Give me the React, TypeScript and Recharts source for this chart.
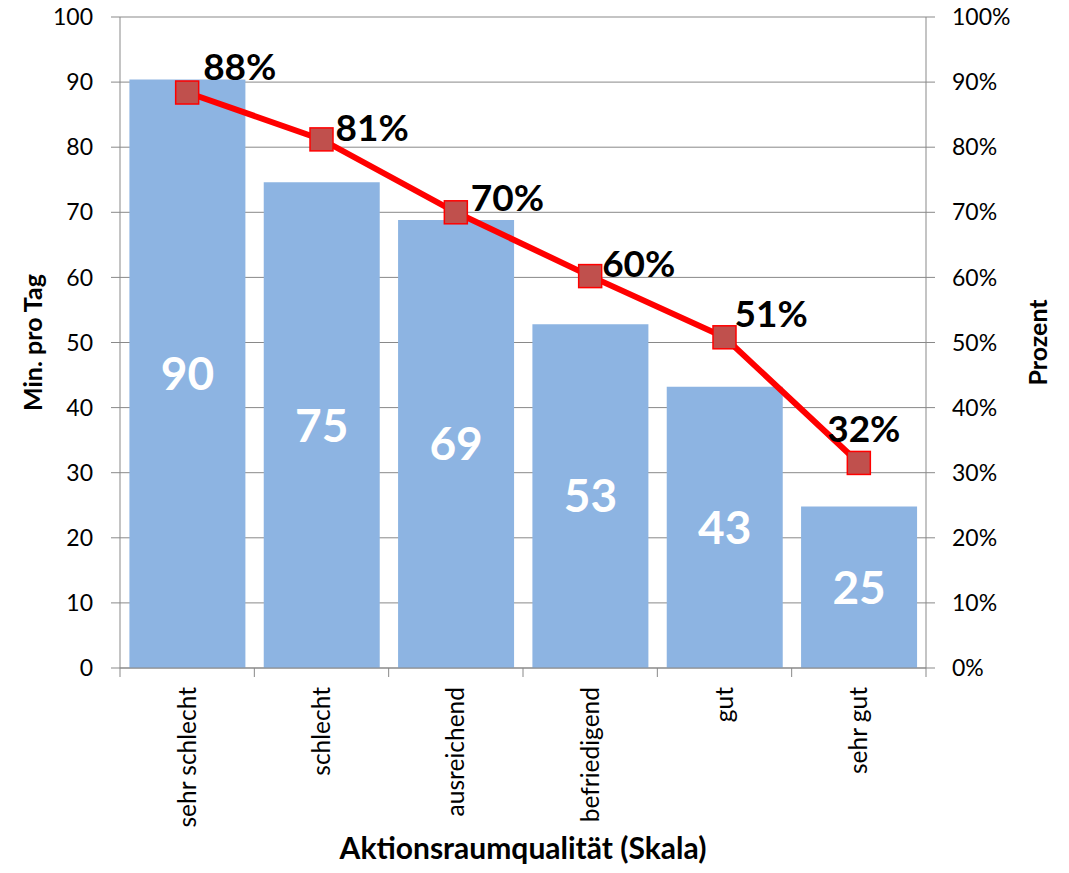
import {
  Bar,
  CartesianGrid,
  ComposedChart,
  LabelList,
  Line,
  XAxis,
  YAxis,
} from "recharts";

const categories = [
  "sehr schlecht",
  "schlecht",
  "ausreichend",
  "befriedigend",
  "gut",
  "sehr gut",
];
// Minuten pro Tag (Säulen, linke Achse)
const minutesPerDay = [90.4, 74.6, 68.8, 52.8, 43.2, 24.8];
// Anteil in Prozent (Linie, rechte Achse)
const percentShare = [88.4, 81.2, 70.0, 60.2, 50.8, 31.5];
const minuteTicks = [0, 10, 20, 30, 40, 50, 60, 70, 80, 90, 100];
const percentTicks = [0, 10, 20, 30, 40, 50, 60, 70, 80, 90, 100];

const data = categories.map((name, i) => ({
  name,
  minuten: minutesPerDay[i],
  prozent: percentShare[i],
}));

const CHART_W = 1069;
const CHART_H = 873;
const LEFT_W = 120;
const RIGHT_W = 143;
const TOP = 17;
const X_H = 205;
const BAND = (CHART_W - LEFT_W - RIGHT_W) / categories.length;

const AXIS = "#898989";
const FONT = "Lato, 'Open Sans', sans-serif";

// category labels run upwards; tick marks sit on the category borders
function CategoryTick(props: any) {
  const { x, y, payload, index } = props;
  const left = x - BAND / 2;
  const ty = y + 19;
  return (
    <g>
      <line x1={left} y1={y} x2={left} y2={y + 9} stroke={AXIS} />
      {index === categories.length - 1 && (
        <line x1={x + BAND / 2} y1={y} x2={x + BAND / 2} y2={y + 9} stroke={AXIS} />
      )}
      <text
        x={x}
        y={ty}
        transform={`rotate(-90 ${x} ${ty})`}
        textAnchor="end"
        dy="0.35em"
        fontSize={24.5}
        fill="#000"
      >
        {payload.value}
      </text>
    </g>
  );
}

function SquareDot(props: any) {
  const { cx, cy } = props;
  if (cx == null || cy == null) return null;
  return (
    <rect
      x={cx - 11.5}
      y={cy - 11.5}
      width={23}
      height={23}
      fill="#C0504D"
      stroke="#FF0000"
      strokeWidth={1.5}
    />
  );
}

// hand-placed offsets of the percentage labels: [dx, dy, anchor]
const pctLabelNudge: [number, number, string][] = [
  [16, -13, "start"],
  [14, 2, "start"],
  [15, -1, "start"],
  [12, 1, "start"],
  [10, -10, "start"],
  [5, -21, "middle"],
];

function PercentLabel(props: any) {
  const { x, y, value, index } = props;
  const [dx, dy, anchor] = pctLabelNudge[index] ?? [14, 0, "start"];
  return (
    <text
      x={x + dx}
      y={y + dy}
      textAnchor={anchor as any}
      fontSize={37}
      fontWeight="bold"
      fill="#000"
    >
      {`${Math.round(value)}%`}
    </text>
  );
}

function SideTitle({ viewBox, text, side }: any) {
  if (!viewBox) return null;
  const x = side === "left" ? viewBox.x + 32 : viewBox.x + viewBox.width - 32;
  const y = viewBox.y + viewBox.height / 2;
  return (
    <text
      x={x}
      y={y}
      transform={`rotate(-90 ${x} ${y})`}
      textAnchor="middle"
      dominantBaseline="central"
      fontSize={25}
      fontWeight="bold"
      fill="#000"
    >
      {text}
    </text>
  );
}

function BottomTitle({ viewBox }: any) {
  if (!viewBox) return null;
  return (
    <text
      x={viewBox.x + viewBox.width / 2}
      y={viewBox.y + viewBox.height - 14}
      textAnchor="middle"
      fontSize={30}
      fontWeight="bold"
      fill="#000"
    >
      Aktionsraumqualität (Skala)
    </text>
  );
}

export default function App() {
  return (
    <div style={{ margin: -8, width: CHART_W, height: CHART_H, fontFamily: FONT, background: "#fff" }}>
      <ComposedChart
        width={CHART_W}
        height={CHART_H}
        data={data}
        margin={{ top: TOP, right: 0, left: 0, bottom: 0 }}
        barCategoryGap="7%"
        style={{ overflow: "visible" }}
      >
        <CartesianGrid yAxisId="left" vertical={false} stroke={AXIS} />
        <XAxis
          dataKey="name"
          height={X_H}
          interval={0}
          tickLine={false}
          tickSize={0}
          tickMargin={0}
          axisLine={{ stroke: AXIS }}
          tick={<CategoryTick />}
          label={{ content: (p: any) => <BottomTitle viewBox={p.viewBox} /> }}
        />
        <YAxis
          yAxisId="left"
          width={LEFT_W}
          domain={[0, 100]}
          ticks={minuteTicks}
          interval={0}
          tickSize={9}
          tickMargin={18}
          axisLine={{ stroke: AXIS }}
          tickLine={{ stroke: AXIS }}
          tick={{ fill: "#000", fontSize: 23 }}
          label={{
            content: (p: any) => <SideTitle viewBox={p.viewBox} text="Min. pro Tag" side="left" />,
          }}
        />
        <YAxis
          yAxisId="right"
          orientation="right"
          width={RIGHT_W}
          domain={[0, 100]}
          ticks={percentTicks}
          interval={0}
          tickSize={9}
          tickMargin={17}
          axisLine={{ stroke: AXIS }}
          tickLine={{ stroke: AXIS }}
          tick={{ fill: "#000", fontSize: 23 }}
          tickFormatter={(v: number) => `${v}%`}
          label={{
            content: (p: any) => <SideTitle viewBox={p.viewBox} text="Prozent" side="right" />,
          }}
        />
        <Bar yAxisId="left" dataKey="minuten" fill="#8DB4E2" isAnimationActive={false}>
          <LabelList
            dataKey="minuten"
            position="center"
            formatter={(v: any) => Math.round(Number(v))}
            fill="#fff"
            fontSize={46}
            fontWeight="bold"
          />
        </Bar>
        <Line
          yAxisId="right"
          dataKey="prozent"
          stroke="#FF0000"
          strokeWidth={6}
          dot={<SquareDot />}
          activeDot={false}
          isAnimationActive={false}
        >
          <LabelList dataKey="prozent" content={<PercentLabel />} />
        </Line>
      </ComposedChart>
    </div>
  );
}
